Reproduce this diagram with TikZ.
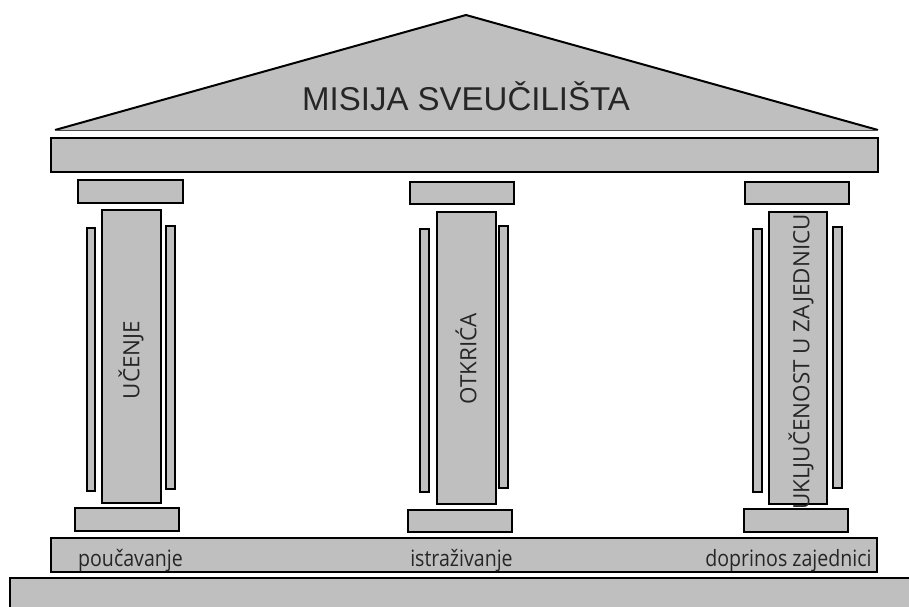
\documentclass[tikz,border=0pt]{standalone}
\usepackage{fontspec}
\setmainfont{Open Sans}
\newfontfamily\titlefont{Liberation Sans}
\newfontfamily\labelfont{Open Sans}[FakeStretch=0.87]
\definecolor{stone}{RGB}{191,191,191}
\definecolor{ink}{RGB}{38,38,38}
\tikzset{
  block/.style={fill=stone, draw=black, line width=1.5pt},
  beam/.style={fill=stone, draw=black, line width=2pt},
  coltext/.style={rotate=90, text=ink, font=\fontsize{22.4}{25}\selectfont, inner sep=0pt},
  basetext/.style={text=ink, font=\labelfont\fontsize{22.5}{25}\selectfont, inner sep=0pt, anchor=base}
}
\begin{document}
\begin{tikzpicture}[x=1pt,y=-1pt]
\useasboundingbox (0,0) rectangle (909,606);
\clip (0,0) rectangle (909,606);
% roof
\fill[stone] (55,130) -- (466,15) -- (878,130) -- cycle;
\draw[black, line width=2pt, line join=round] (55,130) -- (466,15) -- (878,130);
\draw[black!70, line width=1pt] (55,130) -- (878,130);
\node[text=ink, font=\titlefont\fontsize{33}{36}\selectfont, inner sep=0pt, anchor=base] (title) at (466,110) {MISIJA SVEUČILIŠTA};
% entablature
\draw[beam] (51,138) rectangle (878,172);
% left column
\draw[block] (78,180) rectangle (183,203);
\draw[block] (102,210) rectangle (161,503);
\draw[block] (87,228) rectangle (95,491);
\draw[block] (166,226) rectangle (175,489);
\draw[block] (75,508) rectangle (179,531);
\node[coltext] (ucenje) at (131,360) {UČENJE};
% middle column
\draw[block] (410,182) rectangle (514,204);
\draw[block] (437,212) rectangle (496,504);
\draw[block] (420,229) rectangle (429,492);
\draw[block] (499,226) rectangle (508,488);
\draw[block] (408,510) rectangle (512,532);
\node[coltext] (otkrica) at (466,359) {OTKRIĆA};
% right column
\draw[block] (745,182) rectangle (849,204);
\draw[block] (769,212) rectangle (827,504);
\draw[block] (753,229) rectangle (762,492);
\draw[block] (833,227) rectangle (842,488);
\draw[block] (744,509) rectangle (848,532);
\node[coltext] (ukljucenost) at (801,362) {UKLJUČENOST U ZAJEDNICU};
% stylobate
\draw[beam] (51,538) rectangle (877,572);
\node[basetext] (poucavanje) at (130.5,566) {poučavanje};
\node[basetext] (istrazivanje) at (461.5,566) {istraživanje};
\node[basetext] (doprinos) at (788.5,566) {doprinos zajednici};
% ground
\draw[beam] (10,578) rectangle (925,625);
\end{tikzpicture}
\end{document}
